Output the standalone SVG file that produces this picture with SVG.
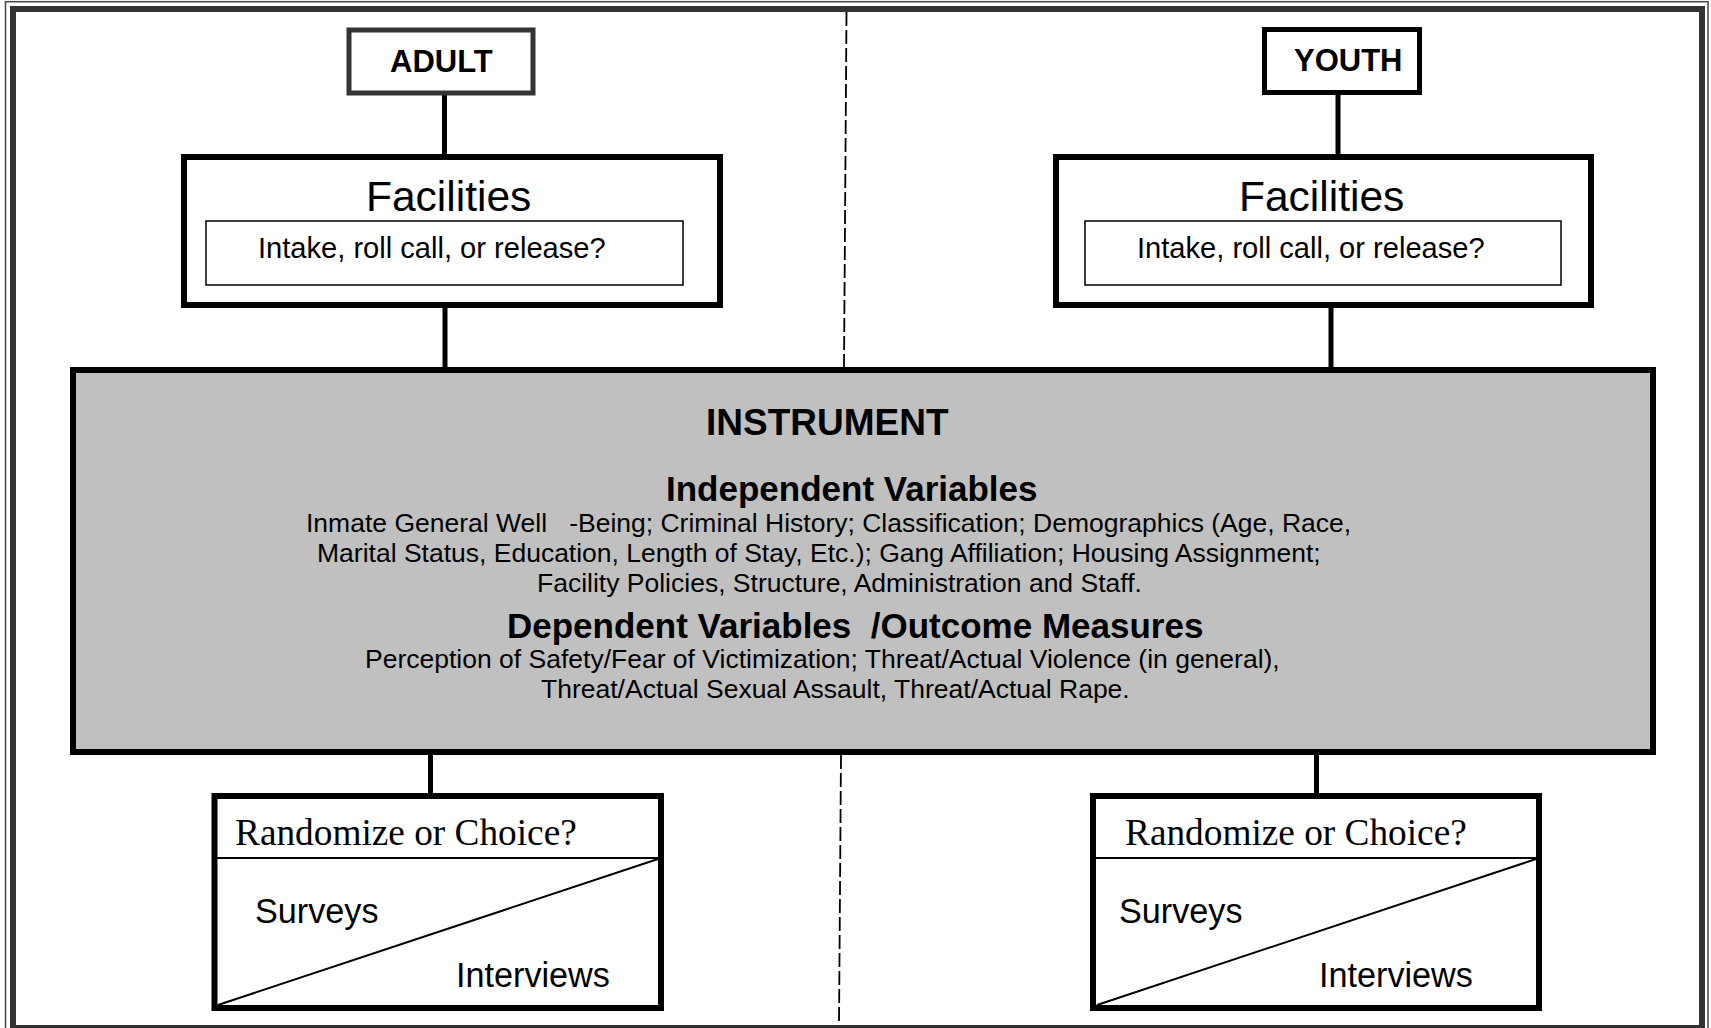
<svg xmlns="http://www.w3.org/2000/svg" width="1711" height="1028" viewBox="0 0 1711 1028">
<style>
.sans{font-family:"Liberation Sans",Arial,sans-serif;fill:#000}
.serif{font-family:"Liberation Serif","Times New Roman",serif;fill:#000}
.b{font-weight:bold}
.box{fill:#fff;stroke:#000;stroke-width:6}
.thin{fill:none;stroke:#000;stroke-width:1.5}
.conn{stroke:#000;stroke-width:5;fill:none}
.dash{stroke:#000;stroke-width:1.8;stroke-dasharray:14 4;fill:none}
.body{font-size:26.5px}
.sub{font-size:35px;font-weight:bold}
</style>
<rect x="0" y="0" width="1711" height="1028" fill="#fff"/>
<g id="frame">
<rect x="5.5" y="1.7" width="1702.5" height="1040" fill="none" stroke="#444" stroke-width="1.5"/>
<rect x="13" y="9" width="1689" height="1019" fill="none" stroke="#333" stroke-width="6"/>
</g>
<g id="connectors">
<line class="dash" x1="846.5" y1="12" x2="844" y2="367"/>
<line class="dash" x1="841" y1="755" x2="839" y2="1025"/>
<line class="conn" x1="444.5" y1="93" x2="444.5" y2="157"/>
<line class="conn" x1="1338" y1="93" x2="1338" y2="157"/>
<line class="conn" x1="445" y1="305" x2="445" y2="370"/>
<line class="conn" x1="1331" y1="305" x2="1331" y2="370"/>
<line class="conn" x1="430.5" y1="752" x2="430.5" y2="796"/>
<line class="conn" x1="1316.5" y1="752" x2="1316.5" y2="796"/>
</g>
<g id="adult">
<rect x="349" y="30" width="184" height="63" fill="#fff" stroke="#333" stroke-width="5"/>
<text class="sans b" x="390" y="72" font-size="31">ADULT</text>
</g>
<g id="youth">
<rect x="1264.5" y="29.5" width="155" height="63" fill="#fff" stroke="#000" stroke-width="5"/>
<text class="sans b" x="1294" y="71" font-size="31">YOUTH</text>
</g>
<g id="facilities-adult">
<rect class="box" x="184" y="157" width="536" height="148"/>
<text class="sans" x="366" y="211" font-size="42.5">Facilities</text>
<rect class="thin" x="206" y="221" width="477" height="64"/>
<text class="sans" x="258" y="258" font-size="29.1">Intake, roll call, or release?</text>
</g>
<g id="facilities-youth">
<rect class="box" x="1056" y="157" width="535" height="148"/>
<text class="sans" x="1239" y="211" font-size="42.5">Facilities</text>
<rect class="thin" x="1085" y="221" width="476" height="64"/>
<text class="sans" x="1137" y="258" font-size="29.1">Intake, roll call, or release?</text>
</g>
<g id="instrument">
<rect x="73" y="370" width="1580" height="382" fill="#c0c0c0" stroke="#000" stroke-width="6"/>
<text class="sans b" x="706" y="435" font-size="37">INSTRUMENT</text>
<text class="sans sub" x="666" y="501">Independent Variables</text>
<text class="sans body" x="306" y="532" xml:space="preserve">Inmate General Well   -Being; Criminal History; Classification; Demographics (Age, Race,</text>
<text class="sans body" x="317" y="562">Marital Status, Education, Length of Stay, Etc.); Gang Affiliation; Housing Assignment;</text>
<text class="sans body" x="537" y="592">Facility Policies, Structure, Administration and Staff.</text>
<text class="sans sub" x="507" y="638" xml:space="preserve">Dependent Variables  /Outcome Measures</text>
<text class="sans body" x="365" y="668">Perception of Safety/Fear of Victimization; Threat/Actual Violence (in general),</text>
<text class="sans body" x="541" y="698">Threat/Actual Sexual Assault, Threat/Actual Rape.</text>
</g>
<g id="method-adult">
<rect class="box" x="214.5" y="796" width="446.5" height="212"/>
<line x1="217" y1="858" x2="658" y2="858" stroke="#000" stroke-width="2"/>
<line x1="218" y1="1005" x2="658" y2="859" stroke="#000" stroke-width="2"/>
<text class="serif" x="235" y="845" font-size="37.3">Randomize or Choice?</text>
<text class="sans" x="255" y="923" font-size="34.2">Surveys</text>
<text class="sans" x="456" y="987" font-size="34.2">Interviews</text>
</g>
<g id="method-youth">
<rect class="box" x="1093" y="796" width="446" height="212"/>
<line x1="1096" y1="858" x2="1536" y2="858" stroke="#000" stroke-width="2"/>
<line x1="1097" y1="1005" x2="1536" y2="859" stroke="#000" stroke-width="2"/>
<text class="serif" x="1125" y="845" font-size="37.3">Randomize or Choice?</text>
<text class="sans" x="1119" y="923" font-size="34.2">Surveys</text>
<text class="sans" x="1319" y="987" font-size="34.2">Interviews</text>
</g>
</svg>
